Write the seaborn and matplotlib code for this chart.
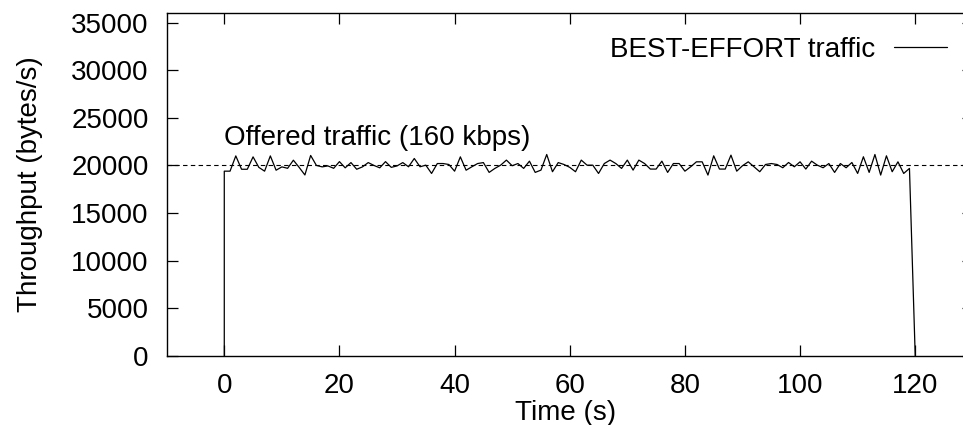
import numpy as np
import matplotlib
matplotlib.use("Agg")
import matplotlib.pyplot as plt
import seaborn as sns

# Measured throughput of the best-effort flow, one sample per second
# (a leading zero marks the flow starting at t = 0).
time_s = [0] + list(range(0, 121))
throughput = [
    0,
    19400, 19400, 21000, 19600, 19600, 20900, 19800, 19400, 21000, 19500,
    19850, 19700, 20550, 19800, 19000, 21050, 20000, 19850, 19950, 19700,
    20400, 19750, 20300, 19600, 19850, 20300, 20000, 19750, 20400, 19800,
    19950, 20300, 19860, 20730, 19860, 20030, 19160, 20200, 20200, 20100,
    19400, 20900, 19500, 19860, 20200, 20300, 19270, 19690, 20030, 20560,
    19970, 20200, 19690, 20450, 19270, 19510, 21150, 19340, 20300, 20100,
    19800, 19340, 20560, 20030, 20030, 19160, 20200, 20560, 20200, 19690,
    20560, 19510, 20560, 20200, 19620, 19620, 20450, 19270, 20200, 20200,
    19400, 19860, 20380, 20380, 18990, 21010, 19620, 19620, 21080, 19400,
    19970, 20380, 19860, 19340, 20100, 20200, 20100, 19760, 20310, 19860,
    20380, 19620, 20450, 20030, 19760, 20200, 19270, 20200, 19760, 20310,
    19160, 20910, 19270, 21150, 18990, 21010, 19340, 20380, 19160, 19690,
    0,
]

offered_rate = 20000  # 160 kbps expressed in bytes/s
offered_label = "Offered traffic (160 kbps)"
series_label = "BEST-EFFORT traffic"
x_ticks = [0, 20, 40, 60, 80, 100, 120]
y_ticks = [0, 5000, 10000, 15000, 20000, 25000, 30000, 35000]

sns.set_style("ticks")
plt.rcParams["font.family"] = ["Liberation Sans", "DejaVu Sans"]
plt.rcParams["font.size"] = 20
plt.rcParams["text.color"] = "black"
plt.rcParams["axes.labelcolor"] = "black"
plt.rcParams["xtick.color"] = "black"
plt.rcParams["ytick.color"] = "black"

W, H = 963, 425
fig = plt.figure(figsize=(W / 100, H / 100), dpi=100)
fig.patch.set_facecolor("white")

# axes box in pixels; the right end runs past the image edge
left_px, right_px, top_px, bottom_px = 166.7, 972.8, 13, 356
ax = fig.add_axes([left_px / W, (H - bottom_px) / H,
                   (right_px - left_px) / W, (bottom_px - top_px) / H])
ax.set_facecolor("white")

sns.lineplot(x=time_s, y=throughput, ax=ax, color="black", linewidth=0.9,
             estimator=None, sort=False, label=series_label)
ax.axhline(offered_rate, color="black", linewidth=0.8,
           linestyle=(0, (4, 3)), zorder=1)
ax.text(0, 22150, offered_label, ha="left", va="baseline", fontsize=20,
        color="black")

ax.set_xlim(-10, 130)
ax.set_ylim(0, 36000)
ax.set_xticks(x_ticks)
ax.set_yticks(y_ticks)

for side in ["top", "right", "left", "bottom"]:
    ax.spines[side].set_visible(True)
    ax.spines[side].set_linewidth(1.0)
    ax.spines[side].set_color("black")

ax.tick_params(axis="both", direction="in", length=8, width=0.9,
               colors="black", labelcolor="black", labelsize=20,
               top=True, right=True)
ax.tick_params(axis="y", pad=13)
ax.tick_params(axis="x", pad=12)

ax.set_xlabel("Time (s)", fontsize=20, color="black")
ax.set_ylabel("Throughput (bytes/s)", fontsize=20, color="black")
ax.xaxis.set_label_coords((566 - left_px) / (right_px - left_px),
                          (bottom_px - 399.5) / (bottom_px - top_px))
ax.yaxis.set_label_coords((43 - left_px) / (right_px - left_px), 0.5)

leg = ax.legend(loc="center right", frameon=False, markerfirst=False,
                handlelength=1.9, handletextpad=0.7, borderpad=0,
                borderaxespad=0, fontsize=20,
                bbox_to_anchor=(947 / W, (H - 50) / H),
                bbox_transform=fig.transFigure)
for txt in leg.get_texts():
    txt.set_color("black")

fig.savefig("out.png", dpi=100, facecolor="white")
